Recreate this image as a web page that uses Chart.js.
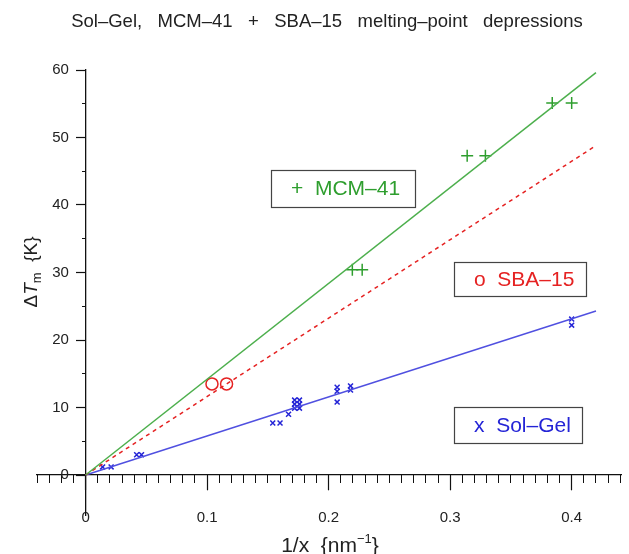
<!DOCTYPE html>
<html>
<head>
<meta charset="utf-8">
<title>Sol-Gel, MCM-41 + SBA-15 melting-point depressions</title>
<script src="https://cdn.jsdelivr.net/npm/chart.js@4.4.1/dist/chart.umd.min.js"></script>
<style>
  html, body { margin: 0; padding: 0; background: #fff; }
  #wrap { width: 629px; height: 554px; }
</style>
</head>
<body>
<div id="wrap"><canvas id="meltChart" width="629" height="554"></canvas></div>
<script>
// melting-point depression data

const titleText = 'Sol\u2013Gel,   MCM\u201341   +   SBA\u201315   melting\u2013point   depressions';

// fitted lines (through origin)
const fitX = [0, 0.42];
const mcmFitY = [0, 59.6];
const sbaFitY = [0, 48.8];
const solFitY = [0, 24.3];

// MCM-41 points
const mcmX = [0.2195, 0.2276, 0.314, 0.329, 0.384, 0.400];
const mcmY = [30.4, 30.4, 47.3, 47.3, 55.1, 55.1];

// SBA-15 points
const sbaX = [0.104, 0.116];
const sbaY = [13.5, 13.5];

// Sol-Gel points
const solX = [0.014, 0.021, 0.042, 0.046, 0.154, 0.160, 0.167,
              0.172, 0.172, 0.172, 0.176, 0.176, 0.176,
              0.207, 0.207, 0.207, 0.218, 0.218, 0.400, 0.400];
const solY = [1.2, 1.2, 3.0, 3.0, 7.7, 7.7, 9.0,
              11.1, 10.5, 9.9, 11.1, 10.5, 9.9,
              13.0, 12.4, 10.8, 13.2, 12.6, 23.1, 22.2];

// legend labels
const legendLabels = ['+  MCM\u201341', 'o  SBA\u201315', 'x  Sol\u2013Gel'];

const GREEN = '#2e9e2e';
const GREEN_LINE = '#4caf4c';
const RED = '#e52222';
const BLUE = '#2424d6';
const BLUE_LINE = '#5050e0';
const FONT = "'Liberation Sans', Arial, Helvetica, sans-serif";

function toPoints(xs, ys) {
    return xs.map(function(x, i) { return { x: x, y: ys[i] }; });
}

// draw a run of text pieces (sub/superscripts, italics) centred at cx,cy
function drawRich(ctx, parts, cx, cy, rotation) {
    ctx.save();
    ctx.translate(cx, cy);
    ctx.rotate(rotation);
    let total = 0;
    parts.forEach(function(p) {
        ctx.font = (p.italic ? 'italic ' : '') + p.size + 'px ' + FONT;
        p.w = ctx.measureText(p.t).width;
        total += p.w;
    });
    let x = -total / 2;
    ctx.textAlign = 'left';
    ctx.textBaseline = 'alphabetic';
    parts.forEach(function(p) {
        ctx.font = (p.italic ? 'italic ' : '') + p.size + 'px ' + FONT;
        ctx.fillText(p.t, x, 7 + (p.dy || 0));
        x += p.w;
    });
    ctx.restore();
}

const extraText = {
    id: 'extraText',
    afterDraw: function(chart) {
        const ctx = chart.ctx;
        ctx.save();
        ctx.fillStyle = '#222';
        ctx.font = '18.5px ' + FONT;
        ctx.textAlign = 'center';
        ctx.textBaseline = 'middle';
        ctx.fillText(titleText, 327, 22);

        drawRich(ctx, [
            { t: '1/x  {nm', size: 21 },
            { t: '\u22121', size: 13, dy: -9 },
            { t: '}', size: 21 }
        ], 330, 545, 0);

        drawRich(ctx, [
            { t: '\u0394', size: 19 },
            { t: 'T', size: 19, italic: true },
            { t: 'm', size: 13, dy: 4 },
            { t: '  {K}', size: 19 }
        ], 30, 272, -Math.PI / 2);

        // legend boxes
        const boxes = [
            { x: 271, y: 170, w: 144, h: 37, color: GREEN },
            { x: 454, y: 262, w: 132, h: 34, color: RED },
            { x: 454, y: 407, w: 128, h: 36, color: BLUE }
        ];
        boxes.forEach(function(b, i) {
            ctx.fillStyle = '#fff';
            ctx.fillRect(b.x, b.y, b.w, b.h);
            ctx.strokeStyle = '#444';
            ctx.lineWidth = 1.2;
            ctx.strokeRect(b.x + 0.5, b.y + 0.5, b.w, b.h);
            ctx.fillStyle = b.color;
            ctx.font = '21px ' + FONT;
            ctx.textAlign = 'left';
            ctx.textBaseline = 'middle';
            ctx.fillText(legendLabels[i], b.x + 20, b.y + b.h / 2 + 1);
        });
        ctx.restore();
    }
};

const hideNegative = function(ctx) {
    return ctx.tick && ctx.tick.value < 0 ? 'rgba(0,0,0,0)' : '#111';
};

const ctx = document.getElementById('meltChart').getContext('2d');
const meltChart = new Chart(ctx, {
    type: 'scatter',
    data: {
        datasets: [
            {
                type: 'line',
                data: toPoints(fitX, mcmFitY),
                borderColor: GREEN_LINE,
                borderWidth: 1.5,
                pointRadius: 0,
                fill: false
            },
            {
                type: 'line',
                data: toPoints(fitX, sbaFitY),
                borderColor: RED,
                borderWidth: 1.5,
                borderDash: [4, 4],
                pointRadius: 0,
                fill: false
            },
            {
                type: 'line',
                data: toPoints(fitX, solFitY),
                borderColor: BLUE_LINE,
                borderWidth: 1.4,
                pointRadius: 0,
                fill: false
            },
            {
                data: toPoints(mcmX, mcmY),
                pointStyle: 'cross',
                pointRadius: 6,
                borderColor: GREEN,
                borderWidth: 1.5,
                backgroundColor: GREEN
            },
            {
                data: toPoints(sbaX, sbaY),
                pointStyle: 'circle',
                pointRadius: 6,
                borderColor: RED,
                borderWidth: 1.5,
                backgroundColor: 'rgba(0,0,0,0)'
            },
            {
                data: toPoints(solX, solY),
                pointStyle: 'crossRot',
                pointRadius: 3.5,
                borderColor: BLUE,
                borderWidth: 1.5,
                backgroundColor: BLUE
            }
        ]
    },
    options: {
        responsive: false,
        animation: false,
        layout: { padding: { left: 37, right: 0, top: 70, bottom: 38.5 } },
        plugins: {
            legend: { display: false },
            title: { display: false },
            tooltip: { enabled: false }
        },
        scales: {
            x: {
                type: 'linear',
                min: -0.04,
                max: 0.441,
                position: { y: 0 },
                ticks: {
                    stepSize: 0.1,
                    includeBounds: false,
                    autoSkip: false,
                    maxRotation: 0,
                    padding: 19,
                    color: '#222',
                    font: { size: 15, family: FONT },
                    callback: function(value) {
                        return value === 0 ? '0' : value.toFixed(1);
                    }
                },
                grid: { drawOnChartArea: false, tickLength: 15, tickColor: '#111', tickWidth: 1.2 },
                border: { color: '#111', width: 1.3 }
            },
            x2: {
                type: 'linear',
                min: -0.04,
                max: 0.441,
                position: { y: 0 },
                ticks: { display: false, stepSize: 0.01, includeBounds: false, autoSkip: false },
                grid: { drawOnChartArea: false, tickLength: 8, tickColor: '#111', tickWidth: 1 },
                border: { display: false }
            },
            y: {
                type: 'linear',
                min: -6,
                max: 60,
                position: { x: 0 },
                ticks: {
                    stepSize: 10,
                    includeBounds: false,
                    autoSkip: false,
                    color: '#222',
                    font: { size: 15, family: FONT },
                    // labels sit right-aligned on the axis line, pad them off it
                    callback: function(value) {
                        return value < 0 ? '' : String(value) + '    ';
                    }
                },
                grid: { drawOnChartArea: false, tickLength: 9, tickColor: hideNegative, tickWidth: 1.2 },
                border: { color: '#111', width: 1.3 }
            },
            y2: {
                type: 'linear',
                min: -6,
                max: 60,
                position: { x: 0 },
                ticks: { display: false, stepSize: 5, includeBounds: false, autoSkip: false },
                grid: { drawOnChartArea: false, tickLength: 4, tickColor: hideNegative, tickWidth: 1 },
                border: { display: false }
            }
        }
    },
    plugins: [extraText]
});
</script>
</body>
</html>
